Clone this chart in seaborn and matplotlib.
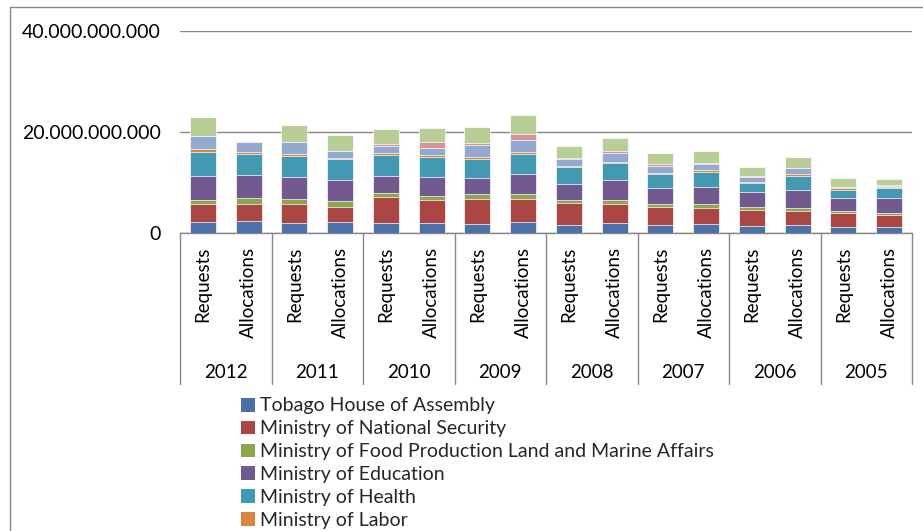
import matplotlib
matplotlib.use("Agg")
import matplotlib.pyplot as plt
import matplotlib.transforms as mtransforms
from matplotlib.lines import Line2D
from matplotlib.patches import Patch
from matplotlib.ticker import FuncFormatter
import seaborn as sns
import pandas as pd

# ---- data (billions of TT$) ----
years = ["2012", "2011", "2010", "2009", "2008", "2007", "2006", "2005"]
kinds = ["Requests", "Allocations"]

series_names = [
    "Tobago House of Assembly",
    "Ministry of National Security",
    "Ministry of Food Production Land and Marine Affairs",
    "Ministry of Education",
    "Ministry of Health",
    "Ministry of Labor",
    "Ministry of Works and Transport",
    "Ministry of Social Development",
    "Other Ministries",
]

tobago =     [2.1, 2.3, 1.9, 2.0, 1.8, 1.8, 1.6, 2.0, 1.5, 1.8, 1.4, 1.6, 1.3, 1.4, 1.0, 1.0]
security =   [3.5, 3.3, 3.8, 3.1, 5.2, 4.7, 5.1, 4.7, 4.3, 3.9, 3.7, 3.3, 3.1, 2.8, 2.8, 2.4]
food =       [0.9, 1.3, 0.9, 1.2, 0.9, 0.7, 0.9, 0.9, 0.6, 0.7, 0.6, 0.8, 0.6, 0.6, 0.4, 0.4]
education =  [4.7, 4.6, 4.4, 4.2, 3.4, 3.9, 3.3, 4.1, 3.3, 4.1, 3.1, 3.4, 3.1, 3.7, 2.7, 3.1]
health =     [4.8, 4.1, 4.2, 4.0, 4.1, 3.8, 3.6, 3.8, 3.4, 3.2, 2.8, 3.0, 1.8, 2.8, 1.6, 1.9]
labor =      [0.5, 0.3, 0.4, 0.2, 0.4, 0.4, 0.4, 0.4, 0.2, 0.3, 0.2, 0.3, 0.2, 0.4, 0.4, 0.2]
works =      [2.7, 2.0, 2.3, 1.5, 1.4, 1.5, 2.5, 2.4, 1.2, 1.7, 1.5, 1.1, 1.0, 1.1, 0.05, 0.3]
social =     [0.0, 0.0, 0.0, 0.0, 0.4, 1.1, 0.4, 1.3, 0.3, 0.4, 0.2, 0.3, 0.2, 0.1, 0.0, 0.2]
other =      [3.7, 0.0, 3.5, 3.1, 2.9, 2.8, 3.2, 3.7, 2.4, 2.6, 2.3, 2.4, 1.8, 2.0, 1.8, 1.1]

series_values = [tobago, security, food, education, health, labor, works, social, other]
colors = ["#4A72A8", "#AA4643", "#8BA64F", "#72598F", "#4399B1",
          "#DB843D", "#93A9CF", "#D69594", "#B9CE96"]

bar_labels = [f"{y} {k}" for y in years for k in kinds]

rows = []
for name, vals in zip(series_names, series_values):
    for lab, v in zip(bar_labels, vals):
        rows.append({"bar": lab, "series": name, "value": v * 1e9})
df = pd.DataFrame(rows)
df["series"] = pd.Categorical(df["series"], categories=series_names, ordered=True)
df = df.sort_values(["bar", "series"])
df["cum"] = df.groupby("bar", sort=False)["value"].cumsum()

# ---- figure ----
sns.set_theme(style="white")
plt.rcParams["font.family"] = ["Lato", "DejaVu Sans"]
FS = 13.5
grey = "#868686"

fig = plt.figure(figsize=(9.23, 5.31), dpi=100)
W, H = 923, 531
ax_left, ax_right, ax_top, ax_bottom = 180, 912, 31, 232.5
ax = fig.add_axes([ax_left / W, 1 - ax_bottom / H,
                   (ax_right - ax_left) / W, (ax_bottom - ax_top) / H])

# stacked bars: draw cumulative layers from the top series down
for name, col in reversed(list(zip(series_names, colors))):
    sub = df[df["series"] == name]
    sns.barplot(data=sub, x="bar", y="cum", order=bar_labels, color=col,
                width=0.57, edgecolor="white", linewidth=0.5,
                saturation=1, errorbar=None, ax=ax, zorder=3)

ax.set_xlim(-0.5, len(bar_labels) - 0.5)
ax.set_ylim(0, 40e9)
ax.set_yticks([0, 20e9, 40e9])
ax.yaxis.set_major_formatter(
    FuncFormatter(lambda v, p: f"{int(round(v)):,}".replace(",", ".")))
ax.grid(axis="y", color=grey, linewidth=1.0, zorder=0)
ax.set_axisbelow(True)
for side in ["left", "right", "top"]:
    ax.spines[side].set_visible(False)
ax.spines["bottom"].set_color(grey)
ax.spines["bottom"].set_linewidth(1.0)
ax.set_xlabel("")
ax.set_ylabel("")

ax.set_xticks(range(len(bar_labels)))
ax.set_xticklabels([k for _ in years for k in kinds], rotation=90,
                   fontsize=FS, color="black")
ax.tick_params(axis="x", length=0, pad=10.5)
ax.tick_params(axis="y", length=0, pad=14, labelsize=14, labelcolor="black")

# multi-level category axis: group separators and year labels
trans = mtransforms.blended_transform_factory(ax.transData, ax.transAxes)
sep_depth = -(384 - ax_bottom) / (ax_bottom - ax_top)
for i in range(len(years) + 1):
    x = -0.5 + 2 * i
    ax.add_line(Line2D([x, x], [0, sep_depth], transform=trans, color=grey,
                       linewidth=1.0, clip_on=False))
year_y = -(372 - ax_bottom) / (ax_bottom - ax_top)
for i, y in enumerate(years):
    ax.text(0.5 + 2 * i, year_y, y, transform=trans, ha="center",
            va="center", fontsize=FS, color="black")

# chart area border (left and top edges)
fig.add_artist(Line2D([10 / W, 10 / W, 1.01], [-0.01, 1 - 7 / H, 1 - 7 / H],
                      transform=fig.transFigure, color=grey, linewidth=1.0))

# legend below the plot
n_shown = 6
handles = [Patch(facecolor=c, edgecolor="none") for c in colors[:n_shown]]
fig.legend(handles, series_names[:n_shown], loc="upper left",
           bbox_to_anchor=(241 / W, 1 - 397.5 / H), frameon=False,
           fontsize=14, handlelength=0.7, handleheight=0.7,
           handletextpad=0.28, labelspacing=0.3, borderpad=0,
           borderaxespad=0)

fig.savefig("out.png", dpi=100)
